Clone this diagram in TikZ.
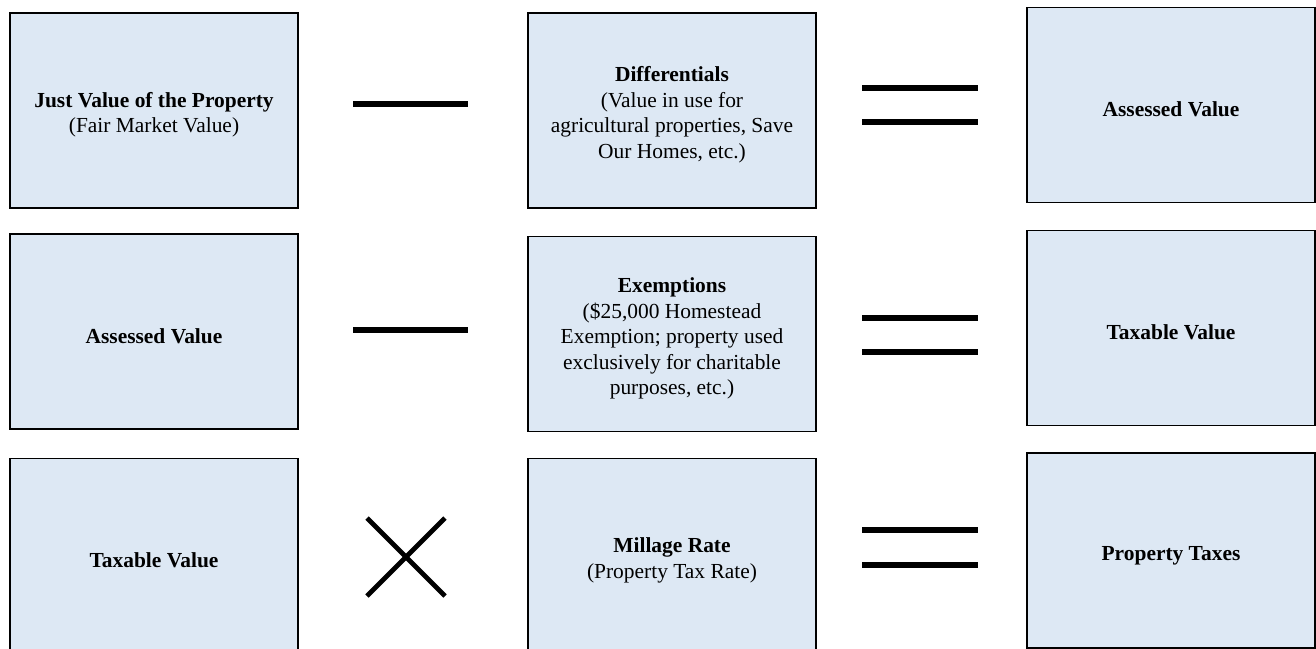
\documentclass[tikz,border=0pt]{standalone}
\usepackage{fontspec}
\setmainfont{Liberation Serif}
\usetikzlibrary{positioning, calc}
\newcommand{\topstrut}{\rule{0pt}{13.6pt}}

\begin{document}
\begin{tikzpicture}[x=0.02cm, y=-0.02cm,
      font=\fontsize{12.2pt}{14.6pt}\selectfont,
      valbox/.style={draw=black, line width=1.1pt, fill=boxblue, align=center, minimum width=5.76cm, minimum height=3.9cm, inner sep=4pt},
      opbar/.style={line width=3.4pt},
      opcross/.style={line width=2.8pt}
    ]
    \definecolor{boxblue}{RGB}{221,232,244}
    \useasboundingbox (0,0) rectangle (1316,649);

    % ─── Row 1: just value ─────────────────────────────────────
    \node[valbox] (just)  at (154, 110.5) {\topstrut\textbf{Just Value of the Property}\\ (Fair Market Value)};
    \node[valbox] (diff)  at (672, 110.5) {\topstrut\textbf{Differentials}\\ (Value in use for\\ agricultural properties, Save\\ Our Homes, etc.)};
    \node[valbox] (assA)  at (1171, 105)  {\topstrut\textbf{Assessed Value}};

    % ─── Row 2: assessed value ─────────────────────────────────
    \node[valbox] (assB)  at (154, 331.5) {\topstrut\textbf{Assessed Value}};
    \node[valbox] (exmp)  at (672, 334)   {\topstrut\textbf{Exemptions}\\ (\$25,000 Homestead\\ Exemption; property used\\ exclusively for charitable\\ purposes, etc.)};
    \node[valbox] (taxA)  at (1171, 328)  {\topstrut\textbf{Taxable Value}};

    % ─── Row 3: taxable value ──────────────────────────────────
    \node[valbox] (taxB)  at (154, 556)   {\topstrut\textbf{Taxable Value}};
    \node[valbox] (mill)  at (672, 556)   {\topstrut\textbf{Millage Rate}\\ (Property Tax Rate)};
    \node[valbox] (ptax)  at (1171, 550.5) {\topstrut\textbf{Property Taxes}};

    % ─── Operators ─────────────────────────────────────────────
    % minus
    \draw[opbar] (353,104) -- (468,104);
    \draw[opbar] (353,330) -- (468,330);

    % times
    \draw[opcross] (367,518) -- (445,596);
    \draw[opcross] (367,596) -- (445,518);

    % equals
    \draw[opbar] (862,88)  -- (978,88);
    \draw[opbar] (862,122) -- (978,122);
    \draw[opbar] (862,318) -- (978,318);
    \draw[opbar] (862,352) -- (978,352);
    \draw[opbar] (862,530) -- (978,530);
    \draw[opbar] (862,565) -- (978,565);

    \end{tikzpicture}
\end{document}
